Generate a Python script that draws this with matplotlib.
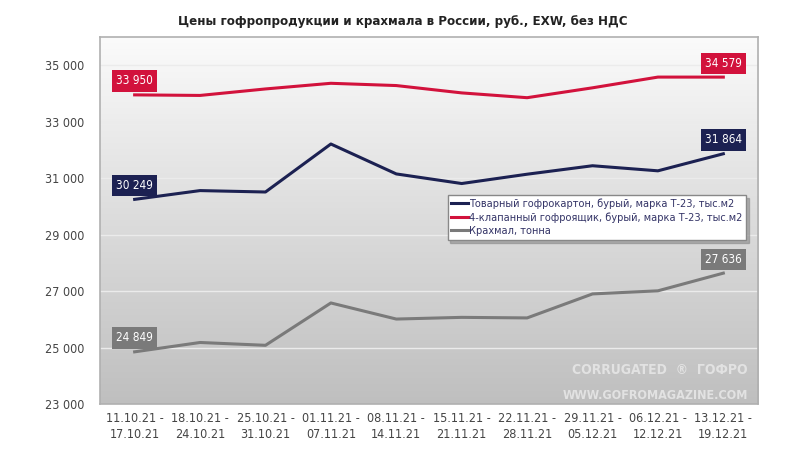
import matplotlib.pyplot as plt
import numpy as np

# weekly price data, rub, EXW, without VAT
weeks = ["11.10.21 -\n17.10.21", "18.10.21 -\n24.10.21", "25.10.21 -\n31.10.21",
         "01.11.21 -\n07.11.21", "08.11.21 -\n14.11.21", "15.11.21 -\n21.11.21",
         "22.11.21 -\n28.11.21", "29.11.21 -\n05.12.21", "06.12.21 -\n12.12.21",
         "13.12.21 -\n19.12.21"]
board = [30249, 30560, 30510, 32210, 31150, 30810, 31140, 31440, 31260, 31864]
boxes = [33950, 33930, 34160, 34360, 34280, 34020, 33850, 34200, 34580, 34579]
starch = [24849, 25180, 25080, 26580, 26010, 26070, 26050, 26900, 27010, 27636]

series_names = ["Товарный гофрокартон, бурый, марка Т-23, тыс.м2",
                "4-клапанный гофроящик, бурый, марка Т-23, тыс.м2",
                "Крахмал, тонна"]
colors = ["#1c2152", "#d2123c", "#7a7a7a"]
yticks = [23000, 25000, 27000, 29000, 31000, 33000, 35000]

plt.rcParams["font.family"] = ["DejaVu Sans"]
plt.rcParams["font.stretch"] = "condensed"

fig = plt.figure(figsize=(8.05, 4.55), dpi=100)
ax = fig.add_axes([0.1242, 0.112, 0.8174, 0.8067])

x = np.arange(len(weeks))
ax.set_xlim(-0.53, len(weeks) - 0.47)
ax.set_ylim(23000, 36000)

# gradient background of the plot area
grad = np.linspace(0, 1, 256).reshape(-1, 1)
ax.imshow(grad, extent=(-0.53, len(weeks) - 0.47, 23000, 36000), aspect="auto",
          cmap=plt.matplotlib.colors.LinearSegmentedColormap.from_list(
              "bg", ["#bfbfbf", "#dcdcdc", "#fbfbfb"]),
          origin="lower", zorder=0)

for yv in yticks[1:]:
    ax.axhline(yv, color="#ebebeb", lw=1.0, zorder=1)

for vals, c, name in zip([board, boxes, starch], colors, series_names):
    ax.plot(x, vals, color=c, lw=2.2, label=name, zorder=3)
    for i in (0, len(vals) - 1):
        ax.annotate(f"{vals[i]:,}".replace(",", " "), (x[i], vals[i]),
                    xytext=(0, 10), textcoords="offset points", ha="center",
                    va="center", fontsize=8.5, color="white", zorder=5,
                    bbox=dict(boxstyle="square,pad=0.35", fc=c, ec="none"))

ax.set_xticks(x)
ax.set_xticklabels(weeks, fontsize=9, color="#444444", linespacing=1.3)
ax.set_yticks(yticks)
ax.set_yticklabels([f"{v:,}".replace(",", " ") for v in yticks],
                   fontsize=9, color="#444444")
ax.tick_params(axis="x", length=0, pad=6)
ax.tick_params(axis="y", length=0, pad=11)
for s in ax.spines.values():
    s.set_color("#b0b0b0")
    s.set_linewidth(1.2)

leg = ax.legend(loc="upper left", bbox_to_anchor=(0.52, 0.585),
                handlelength=1.5, handletextpad=0.1, borderpad=0.35,
                labelspacing=0.3, fancybox=False,
                shadow={"color": "#8a8a8a", "alpha": 0.6},
                edgecolor="#888888", framealpha=1,
                prop={"family": ["DejaVu Sans"], "size": 7.8})
for t in leg.get_texts():
    t.set_color("#333366")

# watermark
ax.text(0.985, 0.075, "CORRUGATED  \u00ae  ГОФРО", transform=ax.transAxes,
        ha="right", va="bottom", fontsize=10, color="#e2e2e2",
        fontweight="bold", zorder=2)
ax.text(0.985, 0.005, "WWW.GOFROMAGAZINE.COM", transform=ax.transAxes,
        ha="right", va="bottom", fontsize=9, color="#e2e2e2",
        fontweight="bold", zorder=2)

fig.text(0.5, 0.952, "Цены гофропродукции и крахмала в России, руб., EXW, без НДС",
         ha="center", va="center", fontsize=9.5, fontweight="bold", color="#222222")

fig.savefig("out.png", dpi=100)
